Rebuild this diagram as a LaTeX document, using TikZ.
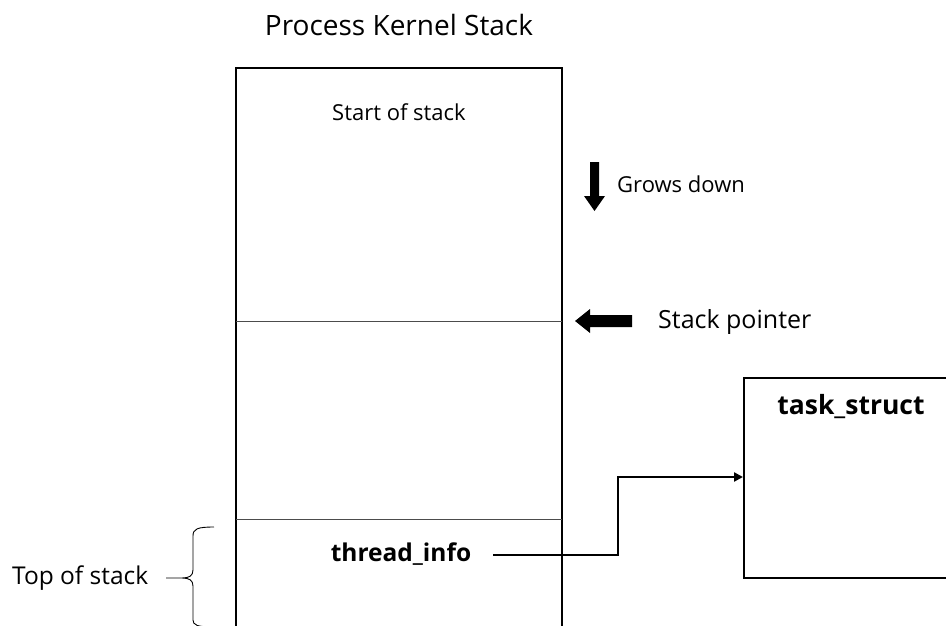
\documentclass[tikz,border=0pt]{standalone}
\usepackage{fontspec}
\setmainfont{Open Sans}
\usetikzlibrary{arrows.meta}
\begin{document}
\begin{tikzpicture}[x=1pt,y=-1pt,
  lbl/.style={inner sep=0pt, font=\fontsize{22}{24}\selectfont},
  blbl/.style={inner sep=0pt, font=\fontsize{24.5}{26}\selectfont\bfseries},
  box/.style={draw, line width=1.6pt},
  divider/.style={draw=black!70, line width=0.8pt},
  conn/.style={line width=2.5pt, -{Triangle[length=9pt,width=9pt]}},
  blockarrow/.style={fill=black}]
\useasboundingbox (0,0) rectangle (946,626);
\clip (0,0) rectangle (946,626);
% stack box
\draw[box] (236,640) -- (236,68) -- (562,68) -- (562,640);
\draw[divider] (236,321) -- (562,321);
\draw[divider] (236,519) -- (562,519);
% task box
\node[box, inner sep=0pt, anchor=north west, minimum width=230pt, minimum height=200pt] (task) at (743,377) {};
\node[blbl, font=\fontsize{26.5}{28}\selectfont\bfseries] (tasklbl) at (851,407) {task\_struct};
% texts
\node[lbl, font=\fontsize{28}{30}\selectfont] (title) at (399,25) {Process Kernel Stack};
\node[lbl] (start) at (399,112) {Start of stack};
\node[lbl, anchor=west] (grows) at (617,184) {Grows down};
\node[lbl, anchor=west, font=\fontsize{25}{27}\selectfont] (sp) at (658,322) {Stack pointer};
\node[blbl] (thread) at (401,554) {thread\_info};
\node[lbl, anchor=west, font=\fontsize{24.5}{26}\selectfont] (top) at (12,578) {Top of stack};
% block arrows
\fill[blockarrow] (590,162) -- (599,162) -- (599,196) -- (605,196) -- (594.5,211) -- (584,196) -- (590,196) -- cycle;
\fill[blockarrow] (632,315) -- (632,327) -- (590,327) -- (590,333) -- (575,321) -- (590,309) -- (590,315) -- cycle;
% connector
\coordinate (bend) at (618,477);
\draw[conn] ([xshift=22pt,yshift=-1pt]thread.east) -| (bend) -- (task.west |- bend);
% brace
\draw[line width=0.9pt] (214,527) .. controls (197,527) and (193,529) .. (193,536) -- (193,570)
  .. controls (193,576) and (189,578) .. (182,578) -- (166,578)
  (182,578) .. controls (189,578) and (193,580) .. (193,586) -- (193,620)
  .. controls (193,625) and (197,627) .. (214,627);
\end{tikzpicture}
\end{document}
